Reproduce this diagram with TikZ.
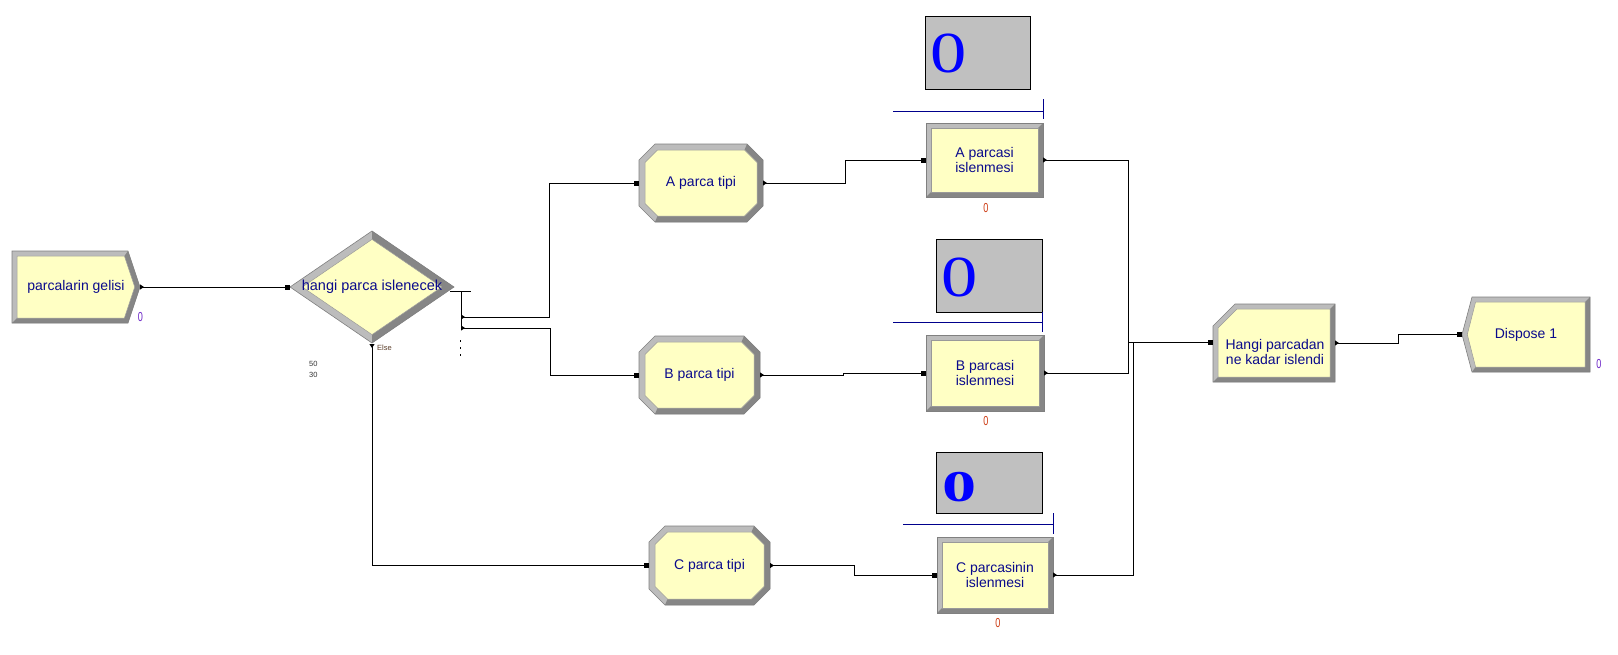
\documentclass[tikz,border=0pt]{standalone}
\usepackage{fontspec}
\setmainfont{Liberation Sans}
\newfontfamily\varfont{Liberation Serif}
\usetikzlibrary{arrows.meta}

\definecolor{boxyellow}{RGB}{255,255,196}
\definecolor{bevellight}{RGB}{188,188,188}
\definecolor{beveldark}{RGB}{134,134,134}
\definecolor{modtext}{RGB}{10,10,140}
\definecolor{queueblue}{RGB}{0,0,140}
\definecolor{varblue}{RGB}{0,0,255}
\definecolor{vargray}{RGB}{192,192,192}
\definecolor{countred}{RGB}{205,60,20}
\definecolor{countviolet}{RGB}{110,40,200}
\definecolor{elsebrown}{RGB}{90,60,40}

\tikzset{
  modlabel/.style={inner sep=0pt, outer sep=0pt, text=modtext, align=center,
    font=\fontsize{14}{15.5}\selectfont},
  innerface/.style={fill=boxyellow, draw=black!40, line width=0.5pt},
  rim/.style={draw=black!50, line width=0.6pt},
  wire/.style={line width=1pt},
  link/.style={wire, {Triangle[reversed,length=4pt,width=5pt]}-{Square[length=5pt,width=5pt]}},
  outlink/.style={wire, {Triangle[reversed,length=4pt,width=5pt]}-},
  queue/.style={draw=queueblue, line width=1pt},
  varbox/.style={draw=black, fill=vargray, line width=0.8pt, inner sep=0pt, outer sep=0pt},
  varnum/.style={text=varblue, inner sep=0pt, font=\varfont\fontsize{58}{58}\selectfont},
  counter/.style={inner sep=0pt, font=\fontsize{13}{13}\selectfont},
  smalllbl/.style={inner sep=0pt, anchor=west, font=\fontsize{7.5}{8}\selectfont},
}
\newcommand{\narrowzero}{\scalebox{0.7}[1]{0}}

% process box: name, x1, y1, x2, y2, text
\newcommand{\procmod}[6]{%
  \fill[bevellight] (#2,#3) rectangle (#4,#5);
  \fill[beveldark] (#4,#3) -- (#4,#5) -- (#2,#5) -- (#2+5,#5-5) -- (#4-5,#5-5) -- (#4-5,#3+5) -- cycle;
  \path[innerface] (#2+5,#3+5) rectangle (#4-5,#5-5);
  \path[rim] (#2,#3) rectangle (#4,#5);
  \node[modlabel, minimum width=#4-#2, minimum height=#5-#3] (#1) at ({(#2+#4)/2},{(#3+#5)/2}) {#6};
}

% octagon (assign): name, x1, y1, x2, y2, text
\newcommand{\octmod}[6]{%
  \fill[bevellight] (#2+16,#3) -- (#4-16,#3) -- (#4,#3+16) -- (#4,#5-16) -- (#4-16,#5) -- (#2+16,#5) -- (#2,#5-16) -- (#2,#3+16) -- cycle;
  \fill[beveldark] (#4-16,#3) -- (#4,#3+16) -- (#4,#5-16) -- (#4-16,#5) -- (#2+16,#5) -- (#2+18.5,#5-6) -- (#4-18.5,#5-6) -- (#4-6,#5-18.5) -- (#4-6,#3+18.5) -- (#4-18.5,#3+6) -- cycle;
  \path[innerface] (#2+18.5,#3+6) -- (#4-18.5,#3+6) -- (#4-6,#3+18.5) -- (#4-6,#5-18.5) -- (#4-18.5,#5-6) -- (#2+18.5,#5-6) -- (#2+6,#5-18.5) -- (#2+6,#3+18.5) -- cycle;
  \path[rim] (#2+16,#3) -- (#4-16,#3) -- (#4,#3+16) -- (#4,#5-16) -- (#4-16,#5) -- (#2+16,#5) -- (#2,#5-16) -- (#2,#3+16) -- cycle;
  \node[modlabel, minimum width=#4-#2, minimum height=#5-#3] (#1) at ({(#2+#4)/2},{(#3+#5)/2}) {#6};
}

% create: name, x1, y1, x right, x tip, y2, text
\newcommand{\createmod}[7]{%
  \pgfmathsetmacro\modym{(#3+#6)/2}
  \fill[bevellight] (#2,#3) -- (#4,#3) -- (#5,\modym) -- (#4,#6) -- (#2,#6) -- cycle;
  \fill[beveldark] (#4,#3) -- (#5,\modym) -- (#4,#6) -- (#2,#6) -- (#2+5,#6-5) -- (#4-3.6,#6-5) -- (#5-5.3,\modym) -- (#4-3.6,#3+5) -- cycle;
  \path[innerface] (#2+5,#3+5) -- (#4-3.6,#3+5) -- (#5-5.3,\modym) -- (#4-3.6,#6-5) -- (#2+5,#6-5) -- cycle;
  \path[rim] (#2,#3) -- (#4,#3) -- (#5,\modym) -- (#4,#6) -- (#2,#6) -- cycle;
  \node[modlabel, minimum width=#5-#2, minimum height=#6-#3] (#1) at ({(#2+#5)/2},\modym) {#7};
}

% dispose: name, x tip, y1, x left, x2, y2, text
\newcommand{\disposemod}[7]{%
  \pgfmathsetmacro\modym{(#3+#6)/2}
  \fill[bevellight] (#2,\modym) -- (#4,#3) -- (#5,#3) -- (#5,#6) -- (#4,#6) -- cycle;
  \fill[beveldark] (#5,#3) -- (#5,#6) -- (#4,#6) -- (#4+3.6,#6-5) -- (#5-5,#6-5) -- (#5-5,#3+5) -- cycle;
  \path[innerface] (#2+5.3,\modym) -- (#4+3.6,#3+5) -- (#5-5,#3+5) -- (#5-5,#6-5) -- (#4+3.6,#6-5) -- cycle;
  \path[rim] (#2,\modym) -- (#4,#3) -- (#5,#3) -- (#5,#6) -- (#4,#6) -- cycle;
  \node[modlabel, minimum width=#5-#2, minimum height=#6-#3] (#1) at ({(#2+#5)/2},\modym) {#7};
}

% record: name, x1, y1, x2, y2
\newcommand{\recordmod}[5]{%
  \fill[bevellight] (#2,#3+22) -- (#2+22,#3) -- (#4,#3) -- (#4,#5) -- (#2,#5) -- cycle;
  \fill[beveldark] (#4,#3) -- (#4,#5) -- (#2,#5) -- (#2+5,#5-5) -- (#4-5,#5-5) -- (#4-5,#3+5) -- cycle;
  \path[innerface] (#2+5,#3+24) -- (#2+24,#3+5) -- (#4-5,#3+5) -- (#4-5,#5-5) -- (#2+5,#5-5) -- cycle;
  \path[rim] (#2,#3+22) -- (#2+22,#3) -- (#4,#3) -- (#4,#5) -- (#2,#5) -- cycle;
  \node[modlabel, minimum width=#4-#2, minimum height=#5-#3] (#1) at ({(#2+#4)/2},{(#3+#5)/2}) {};
}

% decide diamond: name, cx, cy, half width, half height, text
\newcommand{\decidemod}[6]{%
  \fill[bevellight] (#2-#4,#3) -- (#2,#3-#5) -- (#2+#4,#3) -- (#2,#3+#5) -- cycle;
  \fill[beveldark] (#2,#3-#5) -- (#2+#4,#3) -- (#2,#3+#5) -- ({#2},{#3+0.85*#5}) -- ({#2+0.85*#4},{#3}) -- ({#2},{#3-0.85*#5}) -- cycle;
  \path[innerface] ({#2-0.85*#4},{#3}) -- ({#2},{#3-0.85*#5}) -- ({#2+0.85*#4},{#3}) -- ({#2},{#3+0.85*#5}) -- cycle;
  \path[rim] (#2-#4,#3) -- (#2,#3-#5) -- (#2+#4,#3) -- (#2,#3+#5) -- cycle;
  \node[modlabel, minimum width=2*#4, minimum height=2*#5, font=\fontsize{14.5}{16}\selectfont] (#1) at (#2,#3) {#6};
}

\begin{document}
\begin{tikzpicture}[x=1pt,y=-1pt]
\path[use as bounding box, fill=white] (0,0) rectangle (1618,654);

% modules
\createmod{create}{12}{251}{128}{140}{323}{parcalarin gelisi}
\decidemod{decide}{372}{287}{82}{56}{hangi parca islenecek}
\octmod{aType}{639}{144}{763}{222}{A parca tipi}
\octmod{bType}{639}{336}{760}{414}{B parca tipi}
\octmod{cType}{649}{526}{770}{605}{C parca tipi}
\procmod{aProc}{926}{123}{1043}{197}{A parcasi\\islenmesi}
\procmod{bProc}{926}{335}{1044}{411}{B parcasi\\islenmesi}
\procmod{cProc}{937}{537}{1053}{613}{C parcasinin\\islenmesi}
\recordmod{record}{1213}{304}{1335}{382}
\node[modlabel] (recordTxt) at (1275,352) {Hangi parcadan\\ne kadar islendi};
\disposemod{dispose}{1462}{297}{1472}{1590}{372}{Dispose 1}

% variable displays
\node[varbox, minimum width=105, minimum height=73] (aVar) at (977.5,52.5) {};
\node[varbox, minimum width=106, minimum height=73] (bVar) at (989,275.5) {};
\node[varbox, minimum width=106, minimum height=61] (cVar) at (989,482.5) {};
\node[varnum] (aNum) at (948.5,53) {\scalebox{1.25}[1]{0}};
\node[varnum] (bNum) at (960,277) {\scalebox{1.25}[1]{0}};
\node[varnum, font=\varfont\bfseries\fontsize{44}{44}\selectfont] (cNum) at (960,487) {\scalebox{1.55}[1]{0}};

% queues
\draw[queue] (893,111) -- (1043,111);
\draw[queue] (1043,99) -- (1043,119);
\draw[queue] (893,322) -- (1042,322);
\draw[queue] (1042,312) -- (1042,332);
\draw[queue] (903,524) -- (1053,524);
\draw[queue] (1053,513) -- (1053,534);

% counters and labels
\node[counter, text=countviolet] (createCnt) at (140.5,317) {\narrowzero};
\node[counter, text=countviolet] (disposeCnt) at (1599,364.5) {\narrowzero};
\node[counter, text=countred] (aCnt) at (986,208) {\narrowzero};
\node[counter, text=countred] (bCnt) at (986,421) {\narrowzero};
\node[counter, text=countred] (cCnt) at (998,623) {\narrowzero};
\node[smalllbl, text=elsebrown] (elseLbl) at (377,348) {Else};
\node[smalllbl, text=black!80] (pctA) at (309,364) {50};
\node[smalllbl, text=black!80] (pctB) at (309,375) {30};

% decide exits
\coordinate (exA) at (461,317);
\coordinate (exB) at (461,328);
\coordinate (exElse) at (372,344);
\draw[wire] (450,291) -- (471,291);
\draw[wire] (461,291) -- (exB);
\foreach \d in {340,347,354}
  \fill (459.6,\d) rectangle ++(1.3,1.6);

% connectors
\draw[link] (create.east) -- (create.east -| decide.west);
\draw[link] (exA) -- (549,317) |- (aType.west);
\draw[link] (exB) -- (550,328) |- (bType.west);
\draw[link] (exElse) |- (cType.west);
\draw[link] (aType.east) -- ++(82,0) |- (aProc.west);
\draw[link] (bType.east) -- ++(83,0) |- (bProc.west);
\draw[link] (cType.east) -- ++(84,0) |- (cProc.west);
\coordinate (merge) at (1128,342);
\coordinate (mergeC) at (1133,342);
\draw[outlink] (aProc.east) -| (merge);
\draw[outlink] (bProc.east) -| (merge);
\draw[outlink] (cProc.east) -| (mergeC);
\draw[wire, -{Square[length=5pt,width=5pt]}] (merge) -- (merge -| record.west);
\draw[link] (record.east) -- ++(63,0) |- (dispose.west);
\end{tikzpicture}
\end{document}
